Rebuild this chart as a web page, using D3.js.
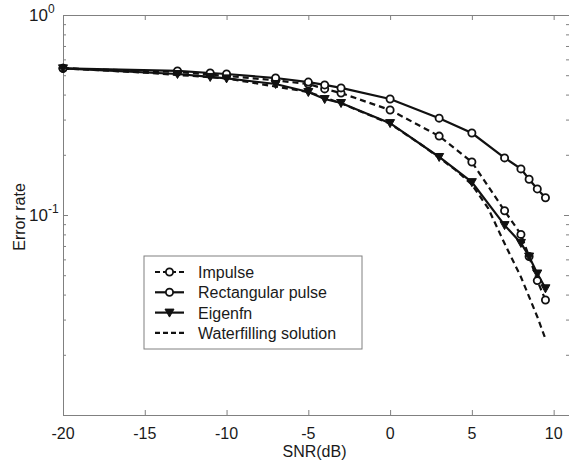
<!DOCTYPE html>
<html>
<head>
<meta charset="utf-8">
<script src="https://cdn.jsdelivr.net/npm/d3@7"></script>
<style>
  body { margin: 0; background: #fff; }
  text { font-family: "Liberation Sans", Arial, sans-serif; fill: #1a1a1a; }
  .frame path.domain { stroke: #808080; }
  .frame .tick line { stroke: #808080; }
</style>
</head>
<body>
<div id="chart"></div>
<script>
// data
const snr = [-20, -13, -11, -10, -7, -5, -4, -3, 0, 3, 5, 7, 8, 8.5, 9, 9.5];
const impulse = [0.541, 0.519, 0.504, 0.496, 0.471, 0.452, 0.427, 0.407, 0.335, 0.248, 0.184, 0.105, 0.080, 0.062, 0.047, 0.0376];
const rectPulse = [0.541, 0.525, 0.513, 0.507, 0.484, 0.462, 0.447, 0.432, 0.380, 0.305, 0.257, 0.193, 0.170, 0.151, 0.135, 0.122];
const eigenfn = [0.541, 0.507, 0.490, 0.482, 0.452, 0.412, 0.380, 0.363, 0.288, 0.195, 0.146, 0.089, 0.0725, 0.062, 0.051, 0.043];
const waterSnr = [-20, -15, -10, -5, -3, 0, 2, 4, 5, 6, 7, 8, 9, 9.5];
const waterfill = [0.541, 0.515, 0.482, 0.412, 0.362, 0.286, 0.222, 0.168, 0.142, 0.108, 0.072, 0.049, 0.031, 0.024];
const xTicks = [-20, -15, -10, -5, 0, 5, 10];
const yMajor = [1, 0.1, 0.01];
const legendLabels = ["Impulse", "Rectangular pulse", "Eigenfn", "Waterfilling solution"];

const W = 569, H = 464;
const plot = {left: 63, right: 570, top: 15, bottom: 415};

const svg = d3.select("#chart").append("svg")
  .attr("width", W).attr("height", H);

const x = d3.scaleLinear().domain([-20, 11]).range([plot.left, plot.right]);
const y = d3.scaleLog().domain([0.01, 1]).range([plot.bottom, plot.top]);

// minor log ticks
const yMinor = [];
[0.01, 0.1].forEach(b => { for (let k = 2; k <= 9; k++) yMinor.push(b * k); });

// frame + ticks (inward, on all four sides)
svg.append("g").attr("class", "frame")
  .attr("transform", `translate(0,${plot.bottom})`)
  .call(d3.axisBottom(x).tickValues(xTicks).tickSize(-5).tickSizeOuter(0).tickFormat(""));
svg.append("g").attr("class", "frame")
  .attr("transform", `translate(0,${plot.top})`)
  .call(d3.axisTop(x).tickValues(xTicks).tickSize(-5).tickSizeOuter(0).tickFormat(""));
svg.append("g").attr("class", "frame")
  .attr("transform", `translate(${plot.left},0)`)
  .call(d3.axisLeft(y).tickValues(yMajor).tickSize(-5).tickSizeOuter(0).tickFormat(""));
svg.append("g").attr("class", "frame")
  .attr("transform", `translate(${plot.left},0)`)
  .call(d3.axisLeft(y).tickValues(yMinor).tickSize(-3).tickSizeOuter(0).tickFormat(""))
  .select(".domain").remove();
svg.append("g").attr("class", "frame")
  .attr("transform", `translate(${plot.right - 1},0)`)
  .call(d3.axisRight(y).tickValues(yMajor).tickSize(-5).tickSizeOuter(0).tickFormat(""));
svg.append("g").attr("class", "frame")
  .attr("transform", `translate(${plot.right - 1},0)`)
  .call(d3.axisRight(y).tickValues(yMinor).tickSize(-3).tickSizeOuter(0).tickFormat(""))
  .select(".domain").remove();

// x tick labels
svg.selectAll(".xlab").data(xTicks).enter().append("text")
  .attr("x", d => x(d)).attr("y", 439)
  .attr("text-anchor", "middle").style("font-size", "16px")
  .text(d => d);

// y tick labels 10^n
const yl = svg.selectAll(".ylab").data([[1, "0"], [0.1, "-1"]]).enter().append("text")
  .attr("x", 29).attr("y", d => y(d[0]) + 6)
  .attr("text-anchor", "start").style("font-size", "17px");
yl.append("tspan").text("10");
yl.append("tspan").attr("dy", -8).style("font-size", "12px").text(d => d[1]);

// axis titles
svg.append("text").attr("x", (plot.left + plot.right) / 2 - 2).attr("y", 457)
  .attr("text-anchor", "middle").style("font-size", "16px").text("SNR(dB)");
svg.append("text")
  .attr("transform", `translate(25,${(plot.top + plot.bottom) / 2 + 2}) rotate(-90)`)
  .attr("text-anchor", "middle").style("font-size", "16px").text("Error rate");

// series
const line = d3.line().x(d => x(d[0])).y(d => y(d[1]));
const series = [
  {name: legendLabels[0], xs: snr, ys: impulse, dash: "6,4", marker: "circle"},
  {name: legendLabels[1], xs: snr, ys: rectPulse, dash: null, marker: "circle"},
  {name: legendLabels[2], xs: snr, ys: eigenfn, dash: null, marker: "tri"},
  {name: legendLabels[3], xs: waterSnr, ys: waterfill, dash: "6,4", marker: null}
];

const triPath = "M-4.5,-3.5L4.5,-3.5L0,4.5Z";

function drawMarker(g, type, cx, cy) {
  if (type === "circle") {
    g.append("circle").attr("cx", cx).attr("cy", cy).attr("r", 3.6)
      .attr("fill", "#fff").attr("stroke", "#111").attr("stroke-width", 1.8);
  } else if (type === "tri") {
    g.append("path").attr("d", triPath).attr("transform", `translate(${cx},${cy})`)
      .attr("fill", "#111").attr("stroke", "#111").attr("stroke-width", 1);
  }
}

const plotG = svg.append("g");
series.forEach(s => {
  const pts = s.xs.map((v, i) => [v, s.ys[i]]);
  plotG.append("path").datum(pts)
    .attr("d", line).attr("fill", "none")
    .attr("stroke", "#111").attr("stroke-width", 2.2)
    .attr("stroke-dasharray", s.dash);
});
series.forEach(s => {
  if (!s.marker) return;
  s.xs.forEach((v, i) => drawMarker(plotG, s.marker, x(v), y(s.ys[i])));
});

// legend
const lg = svg.append("g");
lg.append("rect").attr("x", 144).attr("y", 256).attr("width", 218).attr("height", 93)
  .attr("fill", "#fff").attr("stroke", "#808080").attr("stroke-width", 1);
series.forEach((s, i) => {
  const cy = 272 + i * 20.3;
  lg.append("line").attr("x1", 155).attr("x2", 184).attr("y1", cy).attr("y2", cy)
    .attr("stroke", "#111").attr("stroke-width", 2.2)
    .attr("stroke-dasharray", s.dash ? "5,3" : null);
  drawMarker(lg, s.marker, 169.5, cy);
  lg.append("text").attr("x", 198).attr("y", cy + 6)
    .style("font-size", "16px").text(s.name);
});
</script>
</body>
</html>
